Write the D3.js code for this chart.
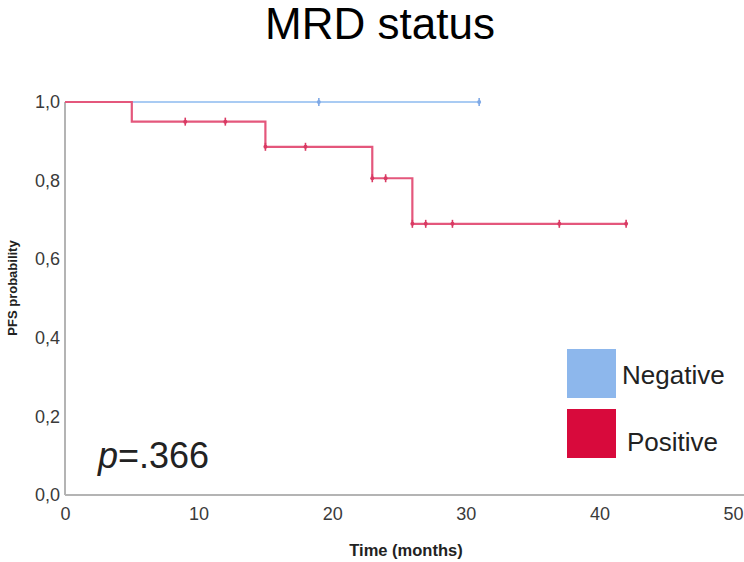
<!DOCTYPE html>
<html>
<head>
<meta charset="utf-8">
<script src="https://cdn.jsdelivr.net/npm/d3@7/dist/d3.min.js"></script>
<style>
  html, body { margin: 0; padding: 0; background: #fff; }
  svg { display: block; font-family: "Liberation Sans", Arial, sans-serif; }
</style>
</head>
<body>
<svg id="chart" width="744" height="562"></svg>
<script>
// Kaplan–Meier PFS by MRD status
const groups = ["Negative", "Positive"];
const groupColors = ["#8db7ec", "#d80a3c"];
const lineColors = ["#a9cbf3", "#e4577c"];

// step curves: [time, survival] at start and after each event
const negativeSteps = [[0, 1.0], [31, 1.0]];
const positiveSteps = [[0, 1.0], [5, 0.950], [15, 0.886], [23, 0.806], [26, 0.690], [42, 0.690]];

// censored observations (months)
const negativeCensored = [19, 31];
const positiveCensored = [9, 12, 15, 18, 23, 24, 26, 27, 29, 37, 42];

const xTicks = [0, 10, 20, 30, 40, 50];
const yTicks = [0, 0.2, 0.4, 0.6, 0.8, 1.0];
const pValueText = "=.366";

const svg = d3.select("#chart");
const W = 744;

const x = d3.scaleLinear().domain([0, 50]).range([65, 733]);
const y = d3.scaleLinear().domain([0, 1]).range([495, 102]);

// title
svg.append("text")
  .attr("x", 380).attr("y", 39)
  .attr("text-anchor", "middle")
  .attr("font-size", 44)
  .attr("fill", "#000")
  .text("MRD status");

// axes
const axisColor = "#b4b4b4";
svg.append("line")
  .attr("x1", x(0)).attr("x2", W)
  .attr("y1", y(0)).attr("y2", y(0))
  .attr("stroke", axisColor).attr("stroke-width", 2);
svg.append("line")
  .attr("x1", x(0)).attr("x2", x(0))
  .attr("y1", y(0)).attr("y2", y(1))
  .attr("stroke", axisColor).attr("stroke-width", 2);

const xAxis = svg.append("g")
  .attr("transform", `translate(0,${y(0)})`)
  .call(d3.axisBottom(x).tickValues(xTicks).tickSize(0).tickPadding(12).tickFormat(d3.format("d")));
xAxis.select(".domain").remove();
xAxis.selectAll("text")
  .attr("font-size", 18).attr("fill", "#3a3a3a")
  .attr("font-family", "Liberation Sans, Arial, sans-serif");

const yAxis = svg.append("g")
  .attr("transform", `translate(${x(0)},0)`)
  .call(d3.axisLeft(y).tickValues(yTicks).tickSize(0).tickPadding(5)
    .tickFormat(d => d3.format(".1f")(d).replace(".", ",")));
yAxis.select(".domain").remove();
yAxis.selectAll("text")
  .attr("font-size", 18).attr("fill", "#3a3a3a")
  .attr("font-family", "Liberation Sans, Arial, sans-serif");

// axis titles
svg.append("text")
  .attr("transform", `translate(17,288) rotate(-90)`)
  .attr("text-anchor", "middle")
  .attr("font-size", 13).attr("font-weight", "bold").attr("fill", "#222")
  .text("PFS probability");

svg.append("text")
  .attr("x", 406).attr("y", 556)
  .attr("text-anchor", "middle")
  .attr("font-size", 16.5).attr("font-weight", "bold").attr("fill", "#222")
  .text("Time (months)");

// curves
const stepLine = d3.line()
  .x(d => x(d[0])).y(d => y(d[1]))
  .curve(d3.curveStepAfter);

function survivalAt(steps, t) {
  let s = steps[0][1];
  for (const [tt, v] of steps) if (tt <= t) s = v;
  return s;
}

const series = [
  { steps: negativeSteps, censored: negativeCensored, color: lineColors[0], mark: "#7fa9e6" },
  { steps: positiveSteps, censored: positiveCensored, color: lineColors[1], mark: "#d93a63" }
];

series.forEach(s => {
  svg.append("path")
    .datum(s.steps)
    .attr("d", stepLine)
    .attr("fill", "none")
    .attr("stroke", s.color)
    .attr("stroke-width", 2.2);

  const g = svg.append("g");
  s.censored.forEach(t => {
    const cx = x(t), cy = y(survivalAt(s.steps, t));
    g.append("line")
      .attr("x1", cx).attr("x2", cx).attr("y1", cy - 4).attr("y2", cy + 4)
      .attr("stroke", s.mark).attr("stroke-width", 1.6);
    g.append("circle")
      .attr("cx", cx).attr("cy", cy).attr("r", 2)
      .attr("fill", s.mark);
  });
});

// p value
const pt = svg.append("text")
  .attr("x", 98).attr("y", 468)
  .attr("font-size", 36).attr("fill", "#222");
pt.append("tspan").attr("font-style", "italic").text("p");
pt.append("tspan").text(pValueText);

// legend
const legendY = [349, 409];
const legendTextX = [622, 627];
const legendTextY = [384, 451];
groups.forEach((name, i) => {
  svg.append("rect")
    .attr("x", 567).attr("y", legendY[i])
    .attr("width", 49).attr("height", 49)
    .attr("fill", groupColors[i]);
  svg.append("text")
    .attr("x", legendTextX[i]).attr("y", legendTextY[i])
    .attr("font-size", 26).attr("fill", "#222")
    .text(name);
});
</script>
</body>
</html>
